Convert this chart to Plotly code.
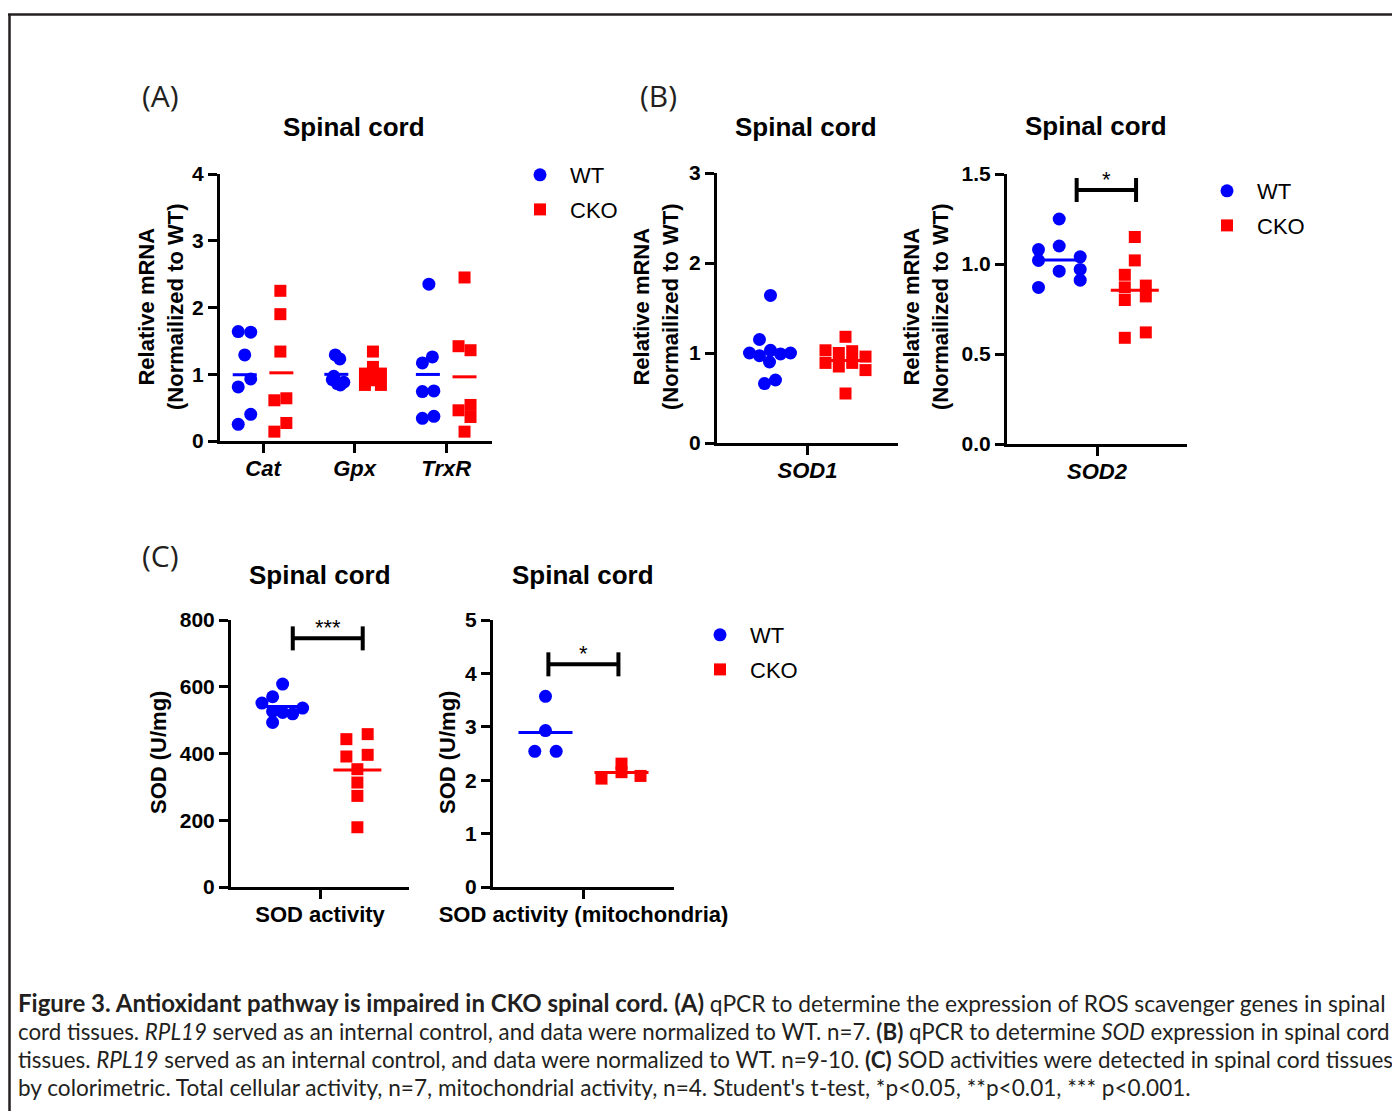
import plotly.graph_objects as go
import numpy as np

W, H = 1400, 1111
PAGE_OFF = 8  # browser body margin

# ---------------- data ----------------
groups = ["WT", "CKO"]
genes_A = ["Cat", "Gpx", "TrxR"]

cat_wt = [1.64, 1.63, 1.29, 0.93, 0.81, 0.40, 0.25]
cat_cko = [2.25, 1.90, 1.34, 0.61, 0.64, 0.14, 0.27]
gpx_wt = [1.29, 1.23, 0.97, 0.92, 0.88, 0.86, 0.84]
gpx_cko = [1.34, 1.11, 1.01, 1.01, 0.91, 0.84, 0.84]
trxr_wt = [2.35, 1.26, 1.17, 0.74, 0.75, 0.34, 0.37]
trxr_cko = [2.45, 1.42, 1.36, 0.46, 0.54, 0.36, 0.14]

sod1_wt = [1.64, 1.15, 1.00, 0.97, 1.03, 0.99, 1.00, 0.90, 0.66, 0.70]
sod1_cko = [1.18, 1.03, 1.00, 1.02, 0.96, 0.89, 0.85, 0.89, 0.81, 0.55]
sod2_wt = [1.25, 1.08, 1.10, 1.02, 1.04, 0.96, 0.97, 0.91, 0.87]
sod2_cko = [1.15, 1.02, 0.94, 0.87, 0.88, 0.80, 0.82, 0.59, 0.62]

sod_total_wt = [608, 570, 551, 526, 523, 519, 536, 493]
sod_total_cko = [443, 458, 391, 396, 353, 313, 273, 179]
sod_mito_wt = [3.57, 2.93, 2.54, 2.54]
sod_mito_cko = [2.31, 2.15, 2.03, 2.08]

# horizontal scatter of the points within each group (pixels)
jit_cat_wt = [-6.5, 6, 0, 6, -6.5, 6, -6.5]
jit_cat_cko = [-1, -1, -1, -7, 5, -7, 5]
jit_gpx_wt = [-1, 3.5, -2.5, -4, 7.5, 1, 4]
jit_gpx_cko = [0, 0, -8, 8, 0, -8, 8]
jit_trxr_wt = [1, 4.5, -5.5, -5.5, 6, -5.5, 6]
jit_trxr_cko = [0, -6, 6, -6, 6, 6, 0]
jit_sod1_wt = [1, -10, -20, -10, 1, 11, 21, 0, -5, 6]
jit_sod1_cko = [0, -20, -6.7, 6.7, 20, -20, -6.7, 6.7, 20, 0]
jit_sod2_wt = [0, -20.7, 0, -20.7, 21, 0, 21, 21, -20.7]
jit_sod2_cko = [0, 0, -10, -10, 11, -10, 11, -10, 11]
jit_tot_wt = [0, -10, -20.7, -10, 0, 10, 20, -10]
jit_tot_cko = [-11, 10.3, -11, 10.3, 0, 0, 0, 0]
jit_mito_wt = [0, 0, -10.7, 10.7]
jit_mito_cko = [0, 0, -20, 19]

# significance brackets: (x_start, x_end, y, label)
sig_sod2 = (-0.113, 0.217, 1.411, "*")
sig_total = (-0.153, 0.24, 745, "***")
sig_mito = (-0.194, 0.193, 4.17, "*")

caption_bold = "Figure 3. Antioxidant pathway is impaired in CKO spinal cord. (A)"
caption_lines = [
    " qPCR to determine the expression of ROS scavenger genes in spinal",
    "cord tissues. <i>RPL19</i> served as an internal control, and data were normalized to WT. n=7. <b>(B)</b> qPCR to determine <i>SOD</i> expression in spinal cord",
    "tissues. <i>RPL19</i> served as an internal control, and data were normalized to WT. n=9-10. <b>(C)</b> SOD activities were detected in spinal cord tissues",
    "by colorimetric. Total cellular activity, n=7, mitochondrial activity, n=4. Student's t-test, *p&lt;0.05, **p&lt;0.01, *** p&lt;0.001.",
]

# ---------------- styling ----------------
BLUE = "#0000FF"
RED = "#FF0000"
FONT = "Liberation Sans, Arial, sans-serif"
CAPFONT = "Lato, Open Sans, sans-serif"
INK = "#231F20"


def fx(px):
    return (px - PAGE_OFF) / W


def fy(py):
    return 1 - (py - PAGE_OFF) / H


panels = [
    dict(n=1, x=(220, 492), y=(174, 441), xr=(-0.47, 2.5), yr=(0, 4), dtick=1, fmt="d",
         cats=["<i>%s</i>" % g for g in genes_A], off=0.2, hw=12,
         data=[(cat_wt, cat_cko, jit_cat_wt, jit_cat_cko),
               (gpx_wt, gpx_cko, jit_gpx_wt, jit_gpx_cko),
               (trxr_wt, trxr_cko, jit_trxr_wt, jit_trxr_cko)],
         sig=None),
    dict(n=2, x=(717, 898), y=(173, 443), xr=(-0.5, 0.5), yr=(0, 3), dtick=1, fmt="d",
         cats=["<i>SOD1</i>"], off=0.21, hw=25,
         data=[(sod1_wt, sod1_cko, jit_sod1_wt, jit_sod1_cko)], sig=None),
    dict(n=3, x=(1007, 1187), y=(174, 444), xr=(-0.5, 0.5), yr=(0, 1.5), dtick=0.5, fmt=".1f",
         cats=["<i>SOD2</i>"], off=0.21, hw=24,
         data=[(sod2_wt, sod2_cko, jit_sod2_wt, jit_sod2_cko)], sig=sig_sod2),
    dict(n=4, x=(231, 409), y=(620, 887), xr=(-0.5, 0.5), yr=(0, 800), dtick=200, fmt="d",
         cats=["SOD activity"], off=0.21, hw=24,
         data=[(sod_total_wt, sod_total_cko, jit_tot_wt, jit_tot_cko)], sig=sig_total),
    dict(n=5, x=(493, 674), y=(620, 887), xr=(-0.5, 0.5), yr=(0, 5), dtick=1, fmt="d",
         cats=["SOD activity (mitochondria)"], off=0.21, hw=27,
         data=[(sod_mito_wt, sod_mito_cko, jit_mito_wt, jit_mito_cko)], sig=sig_mito),
]

fig = go.Figure()
shapes = []
annotations = []

for p in panels:
    n = p["n"]
    xa = "x" if n == 1 else "x%d" % n
    ya = "y" if n == 1 else "y%d" % n
    xkey = "xaxis" if n == 1 else "xaxis%d" % n
    ykey = "yaxis" if n == 1 else "yaxis%d" % n
    pxu_x = (p["x"][1] - p["x"][0]) / (p["xr"][1] - p["xr"][0])
    pxu_y = (p["y"][1] - p["y"][0]) / (p["yr"][1] - p["yr"][0])
    for ci, (wt, cko, jw, jc) in enumerate(p["data"]):
        for gi, (vals, jit) in enumerate([(wt, jw), (cko, jc)]):
            center = ci + (-p["off"] if gi == 0 else p["off"])
            xs = [center + j / pxu_x for j in jit]
            color = BLUE if gi == 0 else RED
            fig.add_trace(go.Scatter(
                x=xs, y=vals, mode="markers", xaxis=xa, yaxis=ya, showlegend=False,
                cliponaxis=False, hoverinfo="skip",
                marker=dict(symbol="circle" if gi == 0 else "square",
                            size=13 if gi == 0 else 12, color=color, line=dict(width=0))))
        for gi, vals in enumerate([wt, cko]):
            center = ci + (-p["off"] if gi == 0 else p["off"])
            m = float(np.mean(vals))
            hwu = p["hw"] / pxu_x
            fig.add_trace(go.Scatter(
                x=[center - hwu, center + hwu], y=[m, m], mode="lines", xaxis=xa, yaxis=ya,
                showlegend=False, hoverinfo="skip", cliponaxis=False,
                line=dict(color=BLUE if gi == 0 else RED, width=3)))
    fig.layout[xkey] = dict(
        domain=[fx(p["x"][0]), fx(p["x"][1])], range=list(p["xr"]), anchor=ya,
        showline=True, linecolor="black", linewidth=3, ticks="outside", ticklen=9,
        tickwidth=3, tickcolor="black", showgrid=False, zeroline=False, automargin=False,
        tickvals=list(range(len(p["cats"]))), ticktext=p["cats"], ticklabelstandoff=-3,
        tickfont=dict(family=FONT, size=22, color="black", weight="bold"), fixedrange=True)
    fig.layout[ykey] = dict(
        domain=[fy(p["y"][1]), fy(p["y"][0])], range=list(p["yr"]), anchor=xa,
        showline=True, linecolor="black", linewidth=3, ticks="outside", ticklen=9,
        tickwidth=3, tickcolor="black", showgrid=False, zeroline=False, automargin=False,
        dtick=p["dtick"], tick0=0, tickformat=p["fmt"],
        tickfont=dict(family=FONT, size=21, color="black", weight="bold"), fixedrange=True)
    if p["sig"]:
        x0, x1, yv, lab = p["sig"]
        dy = 12 / pxu_y
        for (a, b, c, d) in [(x0, yv, x1, yv), (x0, yv - dy, x0, yv + dy), (x1, yv - dy, x1, yv + dy)]:
            shapes.append(dict(type="line", xref=xa, yref=ya, x0=a, y0=b, x1=c, y1=d,
                               line=dict(color="black", width=4)))
        annotations.append(dict(x=(x0 + x1) / 2, y=yv, xref=xa, yref=ya, text=lab,
                                showarrow=False, yanchor="middle", yshift=11,
                                font=dict(family=FONT, size=22, color="black")))

# legends (dummy traces)
for li, lname in enumerate(["legend", "legend2", "legend3"]):
    for gi, g in enumerate(groups):
        fig.add_trace(go.Scatter(
            x=[None], y=[None], mode="markers", name=g, legend=lname,
            legendgroup="%s_%s" % (lname, g),
            marker=dict(symbol="circle" if gi == 0 else "square",
                        size=13 if gi == 0 else 12, color=BLUE if gi == 0 else RED)))

leg_common = dict(xanchor="left", yanchor="top", itemwidth=50, traceorder="grouped",
                  tracegroupgap=3, bgcolor="rgba(0,0,0,0)", borderwidth=0,
                  font=dict(family=FONT, size=22, color="black"), itemclick=False,
                  itemdoubleclick=False)
fig.update_layout(
    legend=dict(x=fx(510), y=fy(154), **leg_common),
    legend2=dict(x=fx(1197), y=fy(170), **leg_common),
    legend3=dict(x=fx(690), y=fy(614), **leg_common),
)

# panel titles
for (px, py) in [(354, 127), (806, 127), (1096, 126), (320, 575), (583, 575)]:
    annotations.append(dict(x=fx(px), y=fy(py), xref="paper", yref="paper", text="<b>Spinal cord</b>",
                            showarrow=False, xanchor="center", yanchor="middle",
                            font=dict(family=FONT, size=26, color="black")))

# panel letters
for (lab, px, py) in [("(A)", 160, 95), ("(B)", 658, 95), ("(C)", 160, 555)]:
    annotations.append(dict(x=fx(px), y=fy(py), xref="paper", yref="paper", text=lab,
                            showarrow=False, xanchor="center", yanchor="middle",
                            font=dict(family="Open Sans, sans-serif", size=30, color=INK)))

# y-axis titles
ytitles = [("<b>Relative mRNA<br>(Normailized to WT)</b>", 161, 307),
           ("<b>Relative mRNA<br>(Normailized to WT)</b>", 656, 307),
           ("<b>Relative mRNA<br>(Normailized to WT)</b>", 926, 307),
           ("<b>SOD (U/mg)</b>", 158, 753),
           ("<b>SOD (U/mg)</b>", 447, 753)]
for (t, px, py) in ytitles:
    annotations.append(dict(x=fx(px), y=fy(py), xref="paper", yref="paper", text=t,
                            showarrow=False, xanchor="center", yanchor="middle", textangle=-90,
                            font=dict(family=FONT, size=22, color="black")))

# caption
cap_sizes = [22.8, 22.3, 22.4, 22.6]
for i, line in enumerate(caption_lines):
    if i == 0:
        line = '<b><span style="font-size:24px">%s</span></b>%s' % (caption_bold, line)
    annotations.append(dict(x=fx(16), y=fy(1003 + 28.3 * i), xref="paper", yref="paper", text=line,
                            showarrow=False, xanchor="left", yanchor="middle", align="left",
                            font=dict(family=CAPFONT, size=cap_sizes[i], color=INK)))

# frame
shapes.append(dict(type="line", xref="paper", yref="paper", x0=fx(8), x1=1.0, y0=fy(14.5), y1=fy(14.5),
                   line=dict(color=INK, width=2.5)))
shapes.append(dict(type="line", xref="paper", yref="paper", x0=fx(9.5), x1=fx(9.5), y0=fy(14), y1=0,
                   line=dict(color=INK, width=2.5)))

fig.update_layout(
    width=W, height=H, margin=dict(l=0, r=0, t=0, b=0, autoexpand=False),
    paper_bgcolor="white", plot_bgcolor="white",
    shapes=shapes, annotations=annotations,
)

fig.write_html("out.html", config={"displayModeBar": False})
